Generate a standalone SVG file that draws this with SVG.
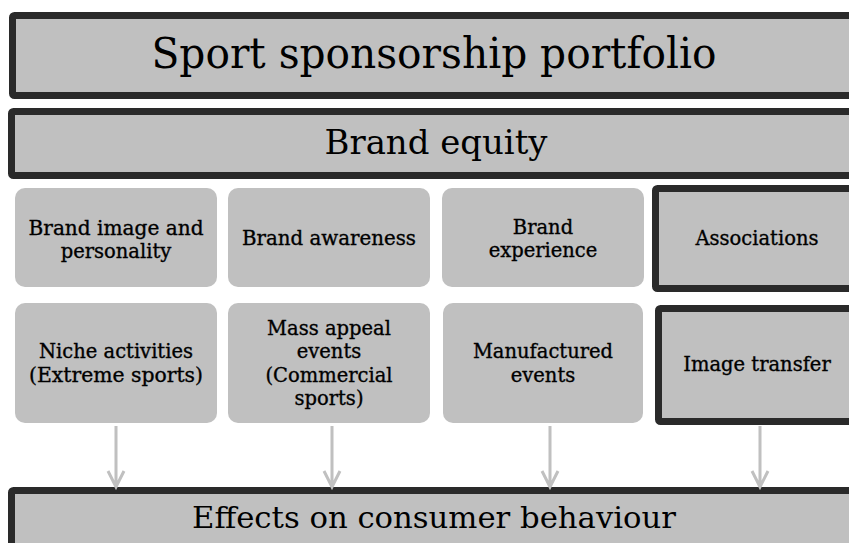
<svg xmlns="http://www.w3.org/2000/svg" width="849" height="543" viewBox="0 0 849 543">
<style>
.big{fill:#c0c0c0;stroke:#2a2a2a;stroke-width:7}
.soft{fill:#c0c0c0;stroke:none}
.t{font-family:"DejaVu Serif","Liberation Serif",serif;fill:#000;text-anchor:middle}
.s{font-size:19.5px;stroke:#000;stroke-width:0.35}
.conn{stroke:#c0c0c0;stroke-width:3;fill:none}
</style>
<rect x="0" y="0" width="849" height="543" fill="#fff"/>
<g id="portfolio">
<rect class="big" x="12.5" y="15.5" width="860" height="80" rx="2"/>
<text class="t" x="434" y="68" font-size="42" textLength="565" lengthAdjust="spacingAndGlyphs">Sport sponsorship portfolio</text>
</g>
<g id="equity">
<rect class="big" x="11.5" y="111.5" width="860" height="64" rx="2"/>
<text class="t" x="436" y="154" font-size="34" textLength="223" lengthAdjust="spacingAndGlyphs">Brand equity</text>
</g>
<g id="image-personality">
<rect class="soft" x="15" y="188" width="202" height="99" rx="10"/>
<text class="t s" x="116" y="235" textLength="175" lengthAdjust="spacingAndGlyphs">Brand image and</text>
<text class="t s" x="116" y="258">personality</text>
</g>
<g id="awareness">
<rect class="soft" x="228" y="188" width="202" height="99" rx="10"/>
<text class="t s" x="329" y="245" textLength="174" lengthAdjust="spacingAndGlyphs">Brand awareness</text>
</g>
<g id="experience">
<rect class="soft" x="442" y="188" width="202" height="99" rx="10"/>
<text class="t s" x="543" y="234">Brand</text>
<text class="t s" x="543" y="257">experience</text>
</g>
<g id="associations">
<rect class="big" x="655.5" y="188.5" width="210" height="100" rx="2"/>
<text class="t s" x="757" y="245">Associations</text>
</g>
<g id="niche">
<rect class="soft" x="15" y="303" width="202" height="120" rx="10"/>
<text class="t s" x="116" y="358">Niche activities</text>
<text class="t s" x="116" y="382" textLength="174" lengthAdjust="spacingAndGlyphs">(Extreme sports)</text>
</g>
<g id="mass-appeal">
<rect class="soft" x="228" y="303" width="202" height="120" rx="10"/>
<text class="t s" x="329" y="335">Mass appeal</text>
<text class="t s" x="329" y="358">events</text>
<text class="t s" x="329" y="382">(Commercial</text>
<text class="t s" x="329" y="405">sports)</text>
</g>
<g id="manufactured">
<rect class="soft" x="443" y="303" width="200" height="120" rx="10"/>
<text class="t s" x="543" y="358">Manufactured</text>
<text class="t s" x="543" y="382">events</text>
</g>
<g id="image-transfer">
<rect class="big" x="658.5" y="308.5" width="210" height="113" rx="2"/>
<text class="t s" x="757" y="371">Image transfer</text>
</g>
<g id="effects">
<rect class="big" x="11.5" y="490.5" width="860" height="80" rx="2"/>
<text class="t" x="434" y="528" font-size="30" textLength="484" lengthAdjust="spacingAndGlyphs">Effects on consumer behaviour</text>
</g>
<g id="connectors">
<path class="conn" d="M116 426V487M108 471L116 487L124 471"/>
<path class="conn" d="M332 426V487M324 471L332 487L340 471"/>
<path class="conn" d="M550 426V487M542 471L550 487L558 471"/>
<path class="conn" d="M760 426V487M752 471L760 487L768 471"/>
</g>
</svg>
